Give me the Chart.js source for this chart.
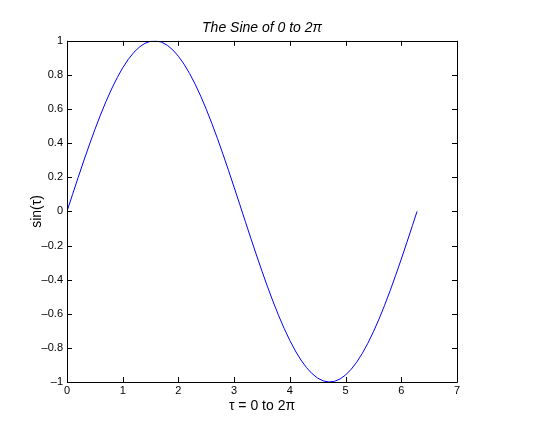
<!DOCTYPE html>
<html>
<head>
<meta charset="utf-8">
<script src="https://cdn.jsdelivr.net/npm/chart.js@4"></script>
<style>
  html, body { margin: 0; padding: 0; background: #fff; }
  #wrap { width: 552px; height: 433px; }
</style>
</head>
<body>
<div id="wrap"><canvas id="sineChart" width="552" height="433"></canvas></div>
<script>
// values
const tValues = [0, 0.1, 0.2, 0.3, 0.4, 0.5, 0.6, 0.7, 0.8, 0.9, 1.0, 1.1, 1.2, 1.3, 1.4, 1.5, 1.6, 1.7, 1.8, 1.9,
    2.0, 2.1, 2.2, 2.3, 2.4, 2.5, 2.6, 2.7, 2.8, 2.9, 3.0, 3.1, 3.2, 3.3, 3.4, 3.5, 3.6, 3.7, 3.8, 3.9,
    4.0, 4.1, 4.2, 4.3, 4.4, 4.5, 4.6, 4.7, 4.8, 4.9, 5.0, 5.1, 5.2, 5.3, 5.4, 5.5, 5.6, 5.7, 5.8, 5.9,
    6.0, 6.1, 6.2, 6.283];
const sinValues = [0, 0.0998, 0.1987, 0.2955, 0.3894, 0.4794, 0.5646, 0.6442, 0.7174, 0.7833, 0.8415, 0.8912, 0.9320, 0.9636, 0.9854, 0.9975, 0.9996, 0.9917, 0.9738, 0.9463,
    0.9093, 0.8632, 0.8085, 0.7457, 0.6755, 0.5985, 0.5155, 0.4274, 0.3350, 0.2392, 0.1411, 0.0416, -0.0584, -0.1577, -0.2555, -0.3508, -0.4425, -0.5298, -0.6119, -0.6878,
    -0.7568, -0.8183, -0.8716, -0.9162, -0.9516, -0.9775, -0.9937, -0.9999, -0.9962, -0.9825, -0.9589, -0.9258, -0.8835, -0.8323, -0.7728, -0.7055, -0.6313, -0.5507, -0.4646, -0.3739,
    -0.2794, -0.1822, -0.0831, 0];
const xTicks = [0, 1, 2, 3, 4, 5, 6, 7];
const yTicks = [-1, -0.8, -0.6, -0.4, -0.2, 0, 0.2, 0.4, 0.6, 0.8, 1];

const FONT = "'Liberation Sans', Arial, Helvetica, sans-serif";

function fmt(v) {
    const s = String(Math.round(v * 10) / 10);
    return v < 0 ? '\u2013' + s.slice(1) : s;
}

// MATLAB style box with inward ticks on all four sides
const boxTicks = {
    id: 'boxTicks',
    afterDraw(chart) {
        const { ctx, chartArea: a, scales } = chart;
        const len = 5;
        ctx.save();
        ctx.strokeStyle = '#000';
        ctx.lineWidth = 1;
        ctx.beginPath();
        ctx.rect(Math.round(a.left) + 0.5, Math.round(a.top) + 0.5,
            Math.round(a.right) - Math.round(a.left), Math.round(a.bottom) - Math.round(a.top));
        xTicks.forEach(v => {
            const x = Math.round(scales.x.getPixelForValue(v)) + 0.5;
            ctx.moveTo(x, a.bottom); ctx.lineTo(x, a.bottom - len);
            ctx.moveTo(x, a.top); ctx.lineTo(x, a.top + len);
        });
        yTicks.forEach(v => {
            const y = Math.round(scales.y.getPixelForValue(v)) + 0.5;
            ctx.moveTo(a.left, y); ctx.lineTo(a.left + len, y);
            ctx.moveTo(a.right, y); ctx.lineTo(a.right - len, y);
        });
        ctx.stroke();
        ctx.restore();
    }
};

new Chart(document.getElementById('sineChart').getContext('2d'), {
    type: 'line',
    data: {
        datasets: [{
            data: tValues.map((t, i) => ({ x: t, y: sinValues[i] })),
            borderColor: '#0000ff',
            borderWidth: 1,
            pointRadius: 0,
            tension: 0,
            fill: false
        }]
    },
    options: {
        responsive: false,
        animation: false,
        devicePixelRatio: 1,
        layout: { padding: { left: 0, right: 95, top: 0, bottom: 0 } },
        plugins: {
            legend: { display: false },
            tooltip: { enabled: false },
            title: {
                display: true,
                text: 'The Sine of 0 to 2\u03c0',
                color: '#000',
                fullSize: false,
                font: { family: FONT, size: 14, style: 'italic', weight: 'normal' },
                padding: { top: 20, bottom: 4 }
            }
        },
        scales: {
            x: {
                type: 'linear',
                min: 0, max: 7,
                afterBuildTicks: s => { s.ticks = xTicks.map(v => ({ value: v })); },
                afterFit: s => { s.height = 51; },
                ticks: { color: '#000', font: { family: FONT, size: 11 }, padding: 2, maxRotation: 0, callback: v => fmt(v) },
                grid: { display: true, drawOnChartArea: false, drawTicks: false },
                border: { display: false },
                title: {
                    display: true,
                    text: '\u03c4 = 0 to 2\u03c0',
                    color: '#000',
                    font: { family: FONT, size: 14, lineHeight: 1 },
                    padding: { top: 0, bottom: 20 }
                }
            },
            y: {
                min: -1, max: 1,
                afterBuildTicks: s => { s.ticks = yTicks.map(v => ({ value: v })); },
                afterFit: s => { s.width = 67; },
                ticks: { color: '#000', font: { family: FONT, size: 11 }, padding: 4, callback: v => fmt(v) },
                grid: { display: true, drawOnChartArea: false, drawTicks: false },
                border: { display: false },
                title: {
                    display: true,
                    text: 'sin(\u03c4)',
                    color: '#000',
                    font: { family: FONT, size: 14, lineHeight: 1 },
                    padding: { top: 30, bottom: 0 }
                }
            }
        }
    },
    plugins: [boxTicks]
});
</script>
</body>
</html>
